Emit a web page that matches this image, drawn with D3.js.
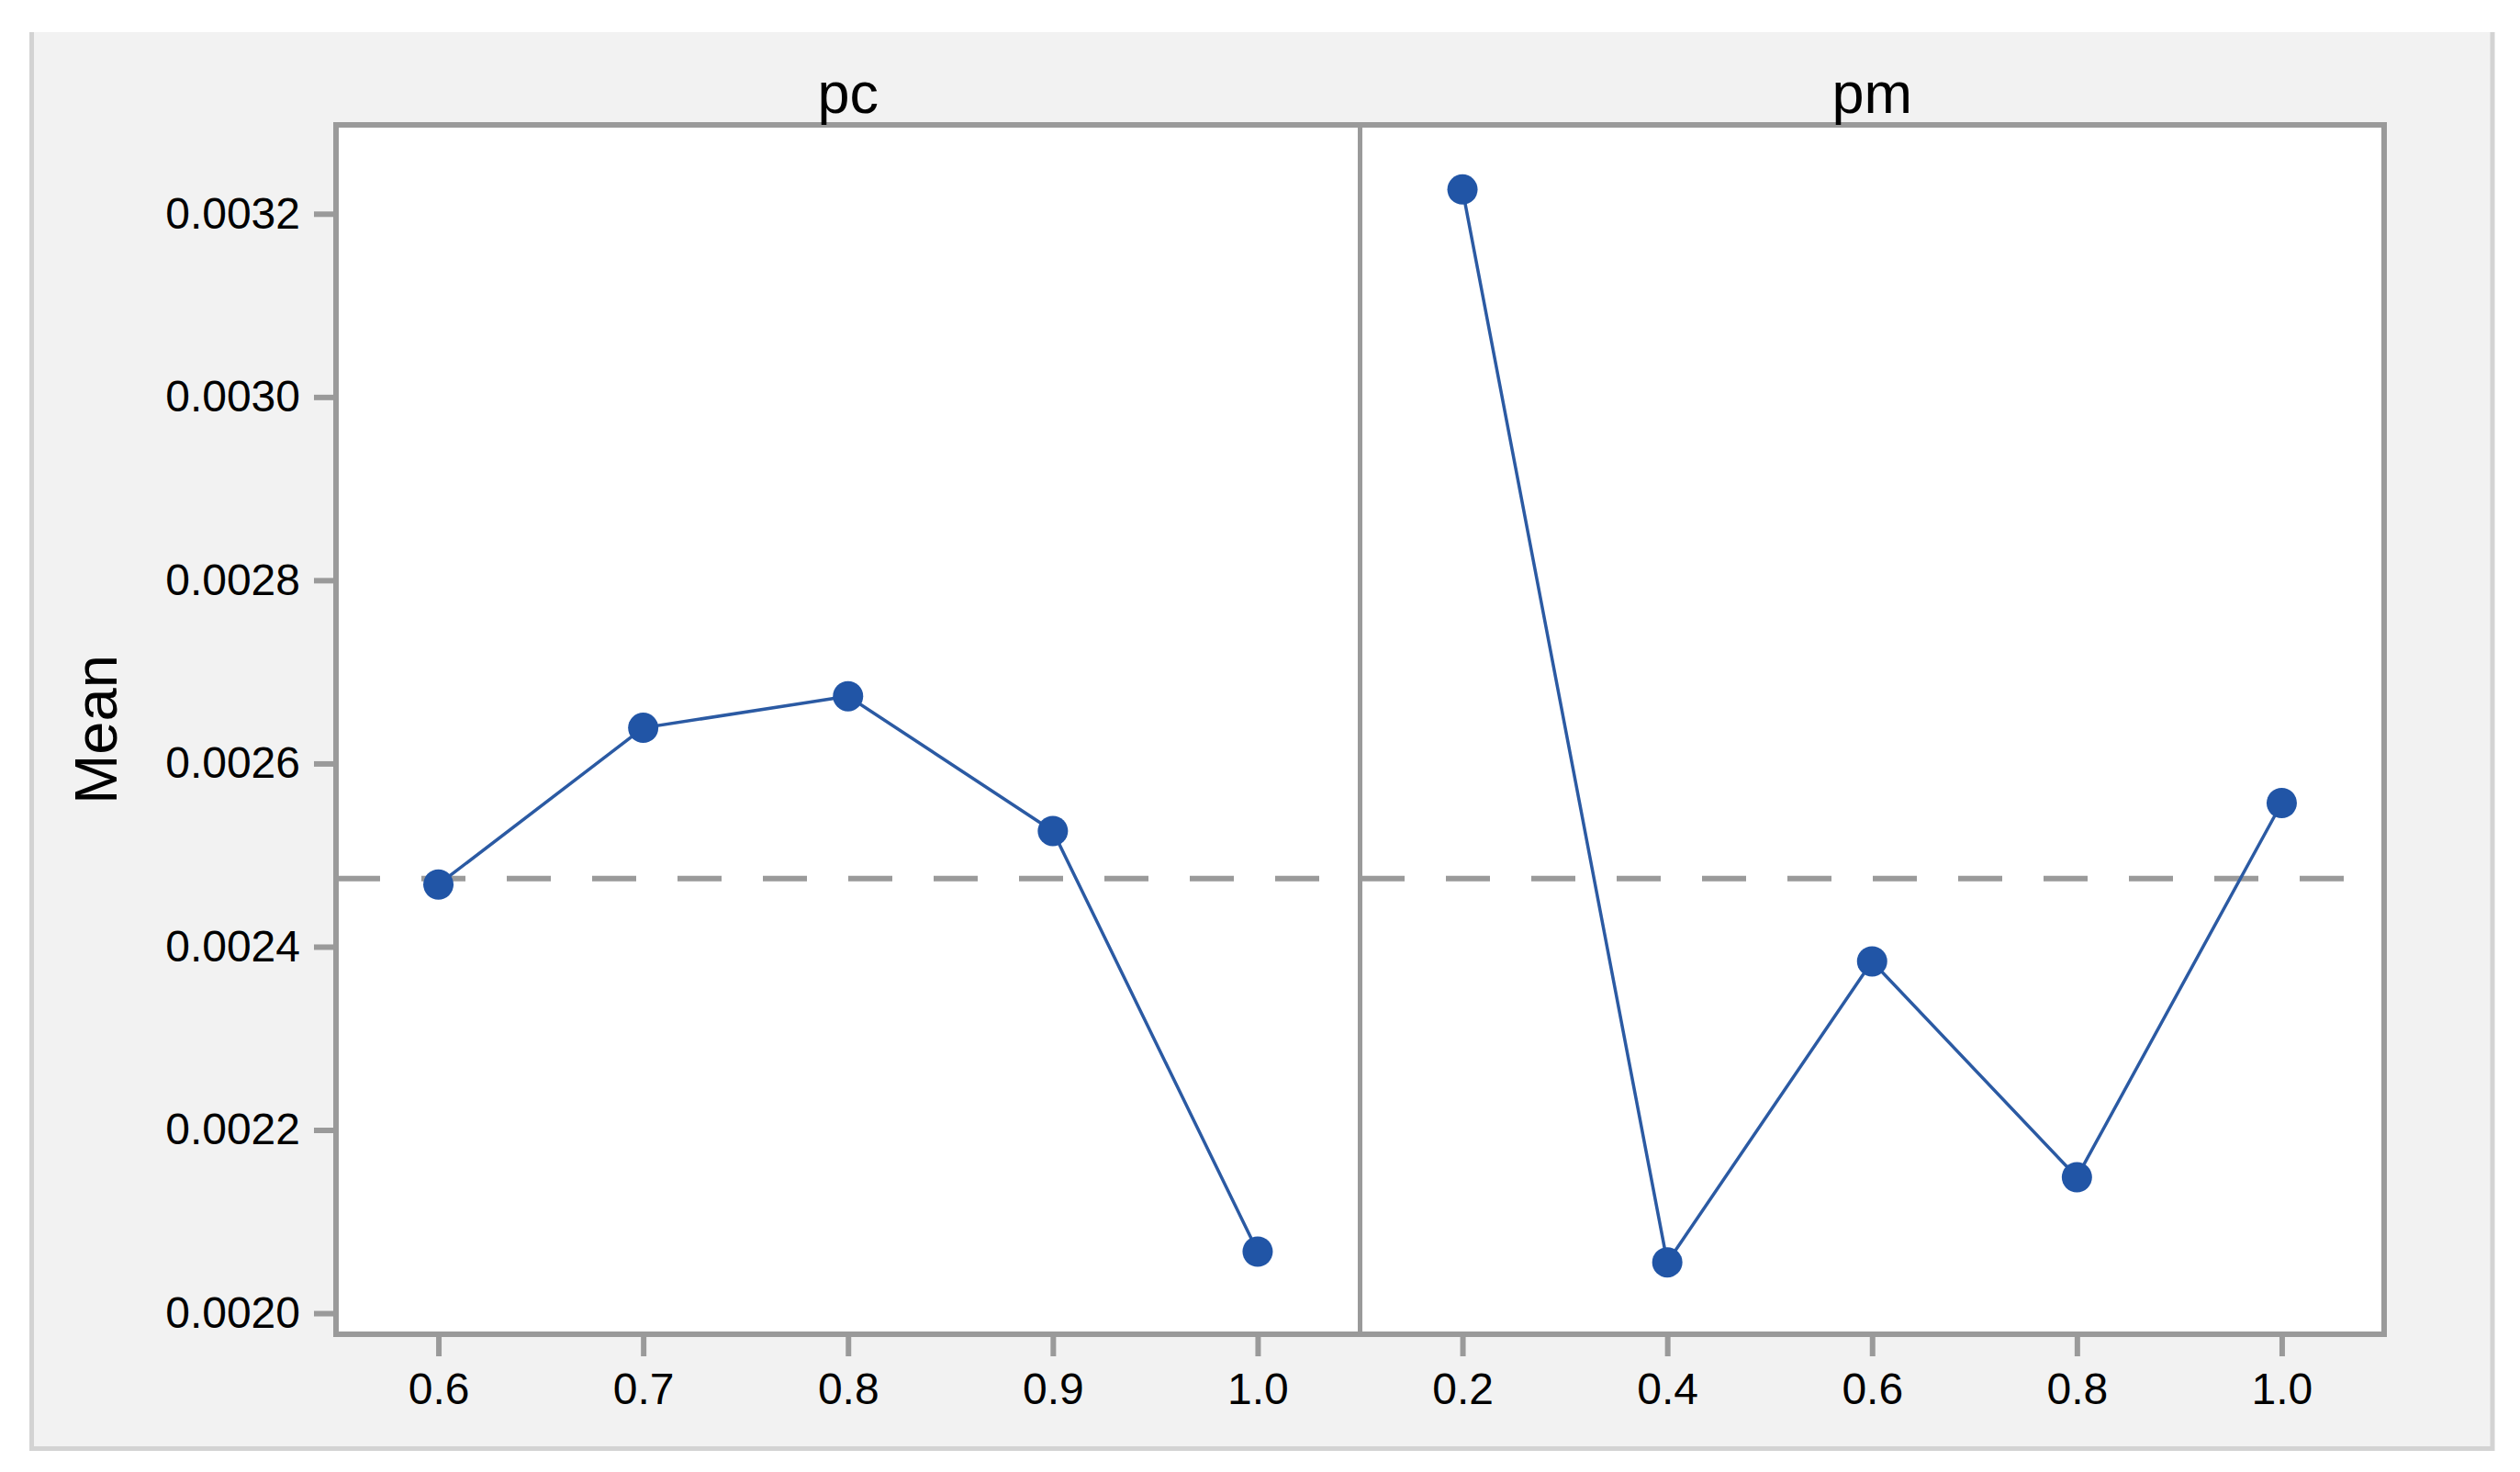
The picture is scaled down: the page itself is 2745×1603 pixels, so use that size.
<!DOCTYPE html>
<html>
<head>
<meta charset="utf-8">
<script src="https://cdn.jsdelivr.net/npm/d3@7"></script>
<style>
    body { margin: 0; background: #ffffff; }
    text { font-family: "Liberation Sans", Arial, Helvetica, sans-serif; fill: #000; }
</style>
</head>
<body>
<div id="chart"></div>
<script>
// factor levels and the mean response
var pcLevels = ["0.6", "0.7", "0.8", "0.9", "1.0"];
var pcMeans = [0.0024679, 0.0026389, 0.0026734, 0.0025263, 0.0020672];

var pmLevels = ["0.2", "0.4", "0.6", "0.8", "1.0"];
var pmMeans = [0.0032265, 0.0020555, 0.0023840, 0.0021484, 0.0025568];

var panelNames = ["pc", "pm"];
var yTicks = [0.0020, 0.0022, 0.0024, 0.0026, 0.0028, 0.0030, 0.0032];
var yDomain = [0.001977, 0.003297];

// set the dimensions of the graph
var width = 2745,
    height = 1603;
var plot = { left: 366, top: 136, right: 2597, bottom: 1453 };
var panelW = (plot.right - plot.left) / 2;

var frameColor = "#9a9a9a";
var lineColor = "#2b5aa3";
var dotColor = "#2155a6";

var svg = d3.select("#chart")
    .append("svg")
    .attr("width", width)
    .attr("height", height);

// grey background panel with light border on left, right and bottom
svg.append("rect")
    .attr("x", 32)
    .attr("y", 35)
    .attr("width", 2685)
    .attr("height", 1545)
    .attr("fill", "#f2f2f2");

svg.append("path")
    .attr("d", "M34.5,35 V1577.5 H2715 V35")
    .attr("fill", "none")
    .attr("stroke", "#d3d3d3")
    .attr("stroke-width", 5);

var y = d3.scaleLinear()
    .domain(yDomain)
    .range([plot.bottom, plot.top]);

// plotting frame
svg.append("rect")
    .attr("x", plot.left)
    .attr("y", plot.top)
    .attr("width", plot.right - plot.left)
    .attr("height", plot.bottom - plot.top)
    .attr("fill", "#ffffff")
    .attr("stroke", frameColor)
    .attr("stroke-width", 6);

svg.append("line")
    .attr("x1", plot.left + panelW)
    .attr("x2", plot.left + panelW)
    .attr("y1", plot.top)
    .attr("y2", plot.bottom)
    .attr("stroke", frameColor)
    .attr("stroke-width", 5);

// Y axis
var yAxis = svg.append("g")
    .attr("transform", "translate(" + plot.left + ",0)")
    .call(d3.axisLeft(y)
        .tickValues(yTicks)
        .tickFormat(d3.format(".4f"))
        .tickSize(24)
        .tickPadding(15)
        .tickSizeOuter(0));
yAxis.select(".domain").remove();
yAxis.selectAll(".tick line")
    .attr("stroke", frameColor)
    .attr("stroke-width", 6);
yAxis.selectAll(".tick text")
    .style("font-size", "48px")
    .attr("fill", "#000");

svg.append("text")
    .attr("transform", "translate(127," + (plot.top + plot.bottom) / 2 + ") rotate(-90)")
    .style("text-anchor", "middle")
    .style("font-size", "65px")
    .text("Mean");

// grand mean reference line
var grandMean = d3.mean(pcMeans.concat(pmMeans));
svg.append("line")
    .attr("x1", plot.left)
    .attr("x2", plot.right)
    .attr("y1", y(grandMean))
    .attr("y2", y(grandMean))
    .attr("stroke", frameColor)
    .attr("stroke-width", 6)
    .attr("stroke-dasharray", "48,45");

var panels = [
    { name: panelNames[0], levels: pcLevels, means: pcMeans },
    { name: panelNames[1], levels: pmLevels, means: pmMeans }
];

panels.forEach(function (p, i) {
    var x0 = plot.left + i * panelW;
    var x = d3.scalePoint()
        .domain(p.levels)
        .range([x0, x0 + panelW])
        .padding(0.5);

    var data = p.levels.map(function (lv, j) {
        return { level: lv, mean: p.means[j] };
    });

    // X axis for this panel
    var xAxis = svg.append("g")
        .attr("transform", "translate(0," + plot.bottom + ")")
        .call(d3.axisBottom(x)
            .tickSize(24)
            .tickPadding(18)
            .tickSizeOuter(0));
    xAxis.select(".domain").remove();
    xAxis.selectAll(".tick line")
        .attr("stroke", frameColor)
        .attr("stroke-width", 6);
    xAxis.selectAll(".tick text")
        .style("font-size", "48px")
        .attr("fill", "#000");

    // panel title
    svg.append("text")
        .attr("x", x0 + panelW / 2)
        .attr("y", 123)
        .style("text-anchor", "middle")
        .style("font-size", "63px")
        .text(p.name);

    var line = d3.line()
        .x(function (d) { return x(d.level); })
        .y(function (d) { return y(d.mean); });

    svg.append("path")
        .datum(data)
        .attr("d", line)
        .attr("fill", "none")
        .attr("stroke", lineColor)
        .attr("stroke-width", 3.5);

    svg.selectAll(".dot-" + p.name)
        .data(data)
        .enter()
        .append("circle")
        .attr("class", "dot-" + p.name)
        .attr("cx", function (d) { return x(d.level); })
        .attr("cy", function (d) { return y(d.mean); })
        .attr("r", 16.5)
        .attr("fill", dotColor);
});
</script>
</body>
</html>
